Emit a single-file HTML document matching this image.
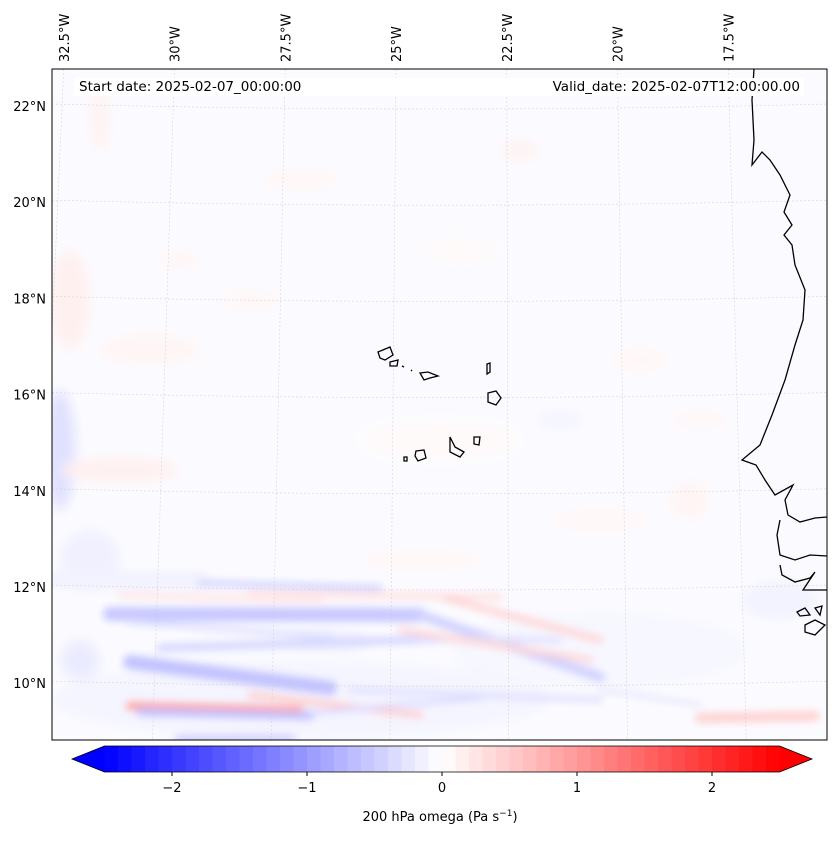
<!DOCTYPE html>
<html><head><meta charset="utf-8"><style>
body{margin:0;background:#fff;font-family:"Liberation Sans","DejaVu Sans",sans-serif}
svg text{font-family:"DejaVu Sans","Liberation Sans",sans-serif;font-size:13px;fill:#000}
</style></head><body>
<svg width="837" height="839" viewBox="0 0 837 839">
<defs>
<filter id="bl" filterUnits="userSpaceOnUse" x="0" y="0" width="837" height="839"><feGaussianBlur stdDeviation="6"/></filter>
<filter id="bl2" filterUnits="userSpaceOnUse" x="0" y="0" width="837" height="839"><feGaussianBlur stdDeviation="4"/></filter>
<clipPath id="mc"><rect x="52" y="69" width="775" height="671"/></clipPath>
</defs>
<g clip-path="url(#mc)">
<rect x="52" y="69" width="775" height="671" fill="#fbfbff"/>
<g filter="url(#bl)" id="blobs"></g>
<g filter="url(#bl2)" id="bands"></g>
<g id="grid" stroke="#ccc" stroke-width="0.6" stroke-dasharray="2,2" fill="none" opacity="0.8"></g>
<g fill="none" stroke="#000" stroke-width="1.3">
<path d="M754,69 L752,100 L754,140 L752,165 L762,152 L770,160 L780,175 L790,195 L784,212 L792,225 L784,235 L792,245 L795,265 L805,290 L803,320 L795,345 L785,380 L772,415 L760,445 L742,460 L756,465 L765,480 L775,495 L793,485 L785,500 L788,515 L800,522 L815,518 L827,517"/>
<path d="M780,520 L777,535 L780,555 L795,560 L810,555 L827,556"/>
<path d="M780,565 L782,575 L795,582 L810,578 L815,572 L803,590 L827,590"/>
<path d="M797,612 L805,608 L810,615 L800,616 Z M815,608 L822,606 L820,615 Z M805,625 L815,620 L825,625 L815,635 L805,632 Z"/>
<path d="M378,352 L390,347 L393,355 L385,360 L380,358 Z M390,362 L398,360 L397,366 L390,366 Z M402,366 L404,367 M411,370 L412,371 M420,373 L428,372 L438,376 L430,378 L424,380 Z M487,364 L490,363 L490,372 L487,374 Z M488,393 L496,391 L501,398 L496,405 L488,402 Z M450,437 L455,447 L464,452 L460,457 L450,452 Z M474,437 L480,437 L479,445 L474,444 Z M416,451 L424,450 L426,458 L418,461 L415,456 Z M404,457 L407,457 L407,461 L404,461 Z"/>
</g>
</g>
<rect x="52" y="69" width="775" height="671" fill="none" stroke="#000" stroke-width="1"/>
<rect x="74" y="78" width="730" height="18" fill="#fff"/>
<text x="79" y="91" style="font-size:13.5px">Start date: 2025-02-07_00:00:00</text>
<text x="800" y="91" text-anchor="end" style="font-size:13.5px">Valid_date: 2025-02-07T12:00:00.00</text>
<g id="latlabels"></g><g id="lonlabels"></g>
<g id="cbar"></g>
<text x="440" y="821" text-anchor="middle">200 hPa omega (Pa s<tspan dy="-5" font-size="9">−1</tspan><tspan dy="5">)</tspan></text>
</svg>
<script>
const latTicks=[22,20,18,16,14,12,10];
const lonTicks=[32.5,30,27.5,25,22.5,20,17.5];
const cbTicks=[-2,-1,0,1,2];
const ns='http://www.w3.org/2000/svg';
function mk(t,a,p){const e=document.createElementNS(ns,t);for(const k in a)e.setAttribute(k,a[k]);p.appendChild(e);return e;}
function latY(l){return 106+(22-l)*48.1;}
function lonTopX(w){return 396-(w-25)*44.3;}
function lonBotX(w){return 390-(w-25)*47.5;}
const grid=document.getElementById('grid');
latTicks.forEach(l=>{const y=latY(l);
 const p=mk('path',{d:`M52,${y-2} Q440,${y+8} 827,${y-2}`},grid);
 
 const t=mk('text',{x:46,y:y+5,'text-anchor':'end'},document.getElementById('latlabels'));
 t.textContent=l+'°N';});
lonTicks.forEach(w=>{const tx=lonTopX(w),bx=lonBotX(w);
 const p=mk('line',{x1:tx,y1:69,x2:bx,y2:740},grid);
 
 const t=mk('text',{x:0,y:0,transform:`translate(${tx+5},62) rotate(-90)`},document.getElementById('lonlabels'));
 t.textContent=w+'°W';});
function col(v){v=Math.max(-2.5,Math.min(2.5,v));const f=Math.abs(v)/2.5;
 const c=Math.round(255*(1-f));
 return v<0?`rgb(${c},${c},255)`:`rgb(255,${c},${c})`;}
const blobX=[60,70,90,150,120,300,520,640,560,700,460,330,180,250,100,780,600,80,420,690,300,600,440];
const blobY=[450,300,560,350,470,180,150,360,420,420,250,640,260,300,120,600,520,660,560,500,700,650,440];
const blobRX=[15,20,30,50,60,40,20,30,25,30,40,40,20,30,10,40,50,20,60,20,250,150,80];
const blobRY=[60,50,30,15,12,10,10,12,10,8,10,10,8,10,30,20,10,20,10,20,40,40,20];
const blobV=[-0.3,0.15,-0.15,0.1,0.15,0.08,0.12,0.08,-0.1,0.08,0.06,-0.15,0.1,0.08,0.12,-0.12,0.08,-0.2,0.08,0.1,-0.1,-0.08,0.05];
const bg=document.getElementById('blobs');
blobX.forEach((x,i)=>{const e=mk('ellipse',{cx:x,cy:blobY[i],rx:blobRX[i],ry:blobRY[i],fill:col(blobV[i])},bg);
 });
const bandX1=[110,160,420,130,60,130,200,130,180,250,350,300,250,420,600,140,400,120,700,445];
const bandY1=[614,648,615,662,580,622,583,706,740,695,690,714,594,639,690,712,630,595,718,598];
const bandX2=[420,440,600,330,200,330,380,300,290,420,600,480,500,560,700,310,590,320,815,600];
const bandY2=[615,639,677,688,580,637,588,710,740,715,700,698,597,640,705,716,660,600,716,640];
const bandW=[14,8,10,14,20,6,6,8,12,6,6,5,6,6,6,8,6,6,10,7];
const bandV=[-0.55,-0.4,-0.45,-0.6,-0.12,-0.3,-0.45,0.9,-0.4,0.5,-0.3,-0.35,0.3,-0.3,-0.2,-0.6,0.4,0.25,0.45,0.4];
const bd=document.getElementById('bands');
bandX1.forEach((x,i)=>{const e=mk('line',{x1:x,y1:bandY1[i],x2:bandX2[i],y2:bandY2[i],stroke:col(bandV[i]),'stroke-width':bandW[i],'stroke-linecap':'round'},bd);
 });
const cb=document.getElementById('cbar');
const x0=104.5,x1=779.5,y0=746,y1=772;
function cx(v){return x0+(v+2.5)/5*(x1-x0);}
for(let k=0;k<50;k++){const v=-2.5+k*0.1;
 const r=mk('rect',{x:cx(v),y:y0,width:(x1-x0)/50+0.5,height:y1-y0,fill:col(v+0.05)},cb);
 }
mk('polygon',{points:`${x0},${y0} 72,759 ${x0},${y1}`,fill:'#0000ff'},cb);
mk('polygon',{points:`${x1},${y0} 812,759 ${x1},${y1}`,fill:'#ff0000'},cb);
mk('polygon',{points:`${x0},${y0} ${x1},${y0} 812,759 ${x1},${y1} ${x0},${y1} 72,759`,fill:'none',stroke:'#000','stroke-width':0.8},cb);
cbTicks.forEach(v=>{mk('line',{x1:cx(v),y1:y1,x2:cx(v),y2:y1+4,stroke:'#000'},cb);
 const t=mk('text',{x:cx(v),y:792,'text-anchor':'middle'},cb);t.textContent=v<0?'−'+(-v):String(v);
 });
</script>
</body></html>
